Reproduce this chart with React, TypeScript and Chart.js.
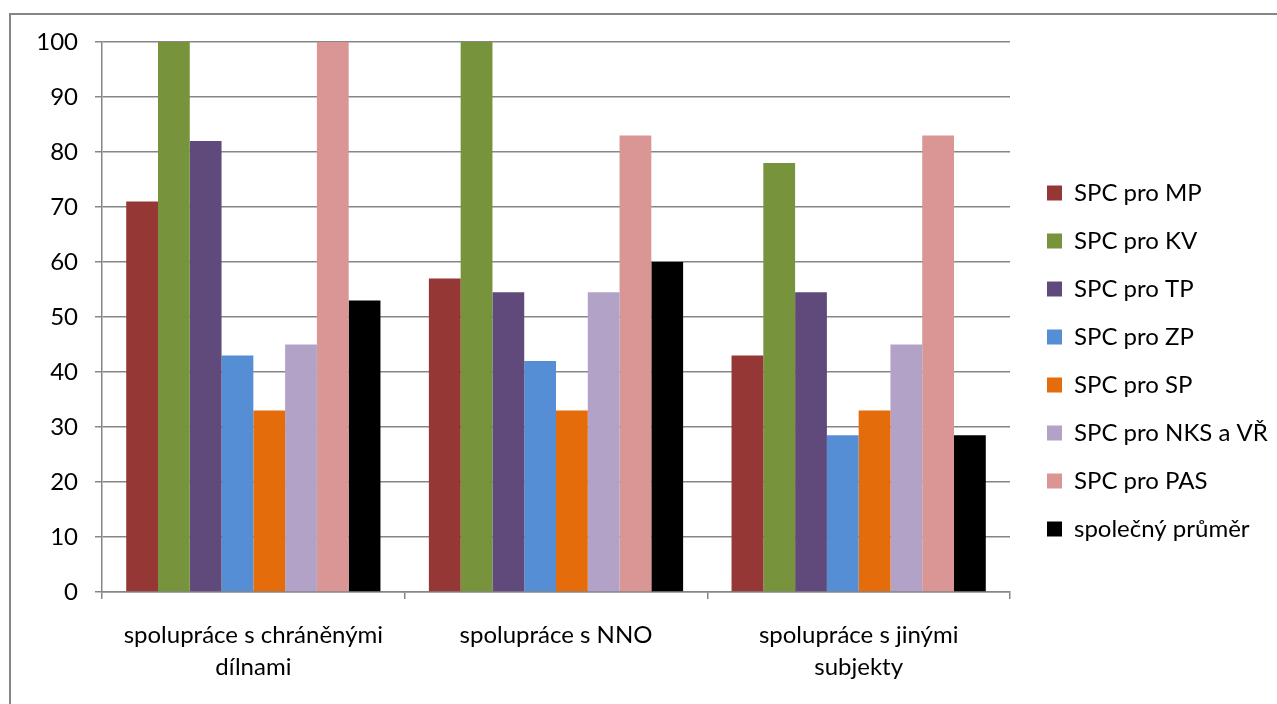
import React, { useEffect, useRef } from 'react';
import { Chart, registerables } from 'chart.js';

Chart.register(...registerables);

const categories: string[][] = [
  ['spolupráce s chráněnými', 'dílnami'],
  ['spolupráce s NNO'],
  ['spolupráce s jinými', 'subjekty'],
];

const seriesNames = [
  'SPC pro MP',
  'SPC pro KV',
  'SPC pro TP',
  'SPC pro ZP',
  'SPC pro SP',
  'SPC pro NKS a VŘ',
  'SPC pro PAS',
  'společný průměr',
];

const spcMP = [71, 57, 43];
const spcKV = [100, 100, 78];
const spcTP = [82, 54.5, 54.5];
const spcZP = [43, 42, 28.5];
const spcSP = [33, 33, 33];
const spcNKS = [45, 54.5, 45];
const spcPAS = [100, 83, 83];
const avgAll = [53, 60, 28.5];

const seriesValues = [spcMP, spcKV, spcTP, spcZP, spcSP, spcNKS, spcPAS, avgAll];

const seriesColors = [
  '#953735',
  '#77933C',
  '#604A7B',
  '#558ED5',
  '#E46C0A',
  '#B3A2C7',
  '#D99694',
  '#000000',
];

const yMin = 0;
const yMax = 100;
const yStep = 10;

const FONT = 'Lato, "Open Sans", sans-serif';
const CANVAS_W = 1266;
const CANVAS_H = 689;
const AREA_LEFT = 91;
const AREA_TOP = 27;
const AREA_BOTTOM = 577;
const AREA_RIGHT = 999;
const LEGEND_PAD = 24;
const LEGEND_LEFT = 1012;
const LEGEND_TOP = 142;

const legendPlacement = {
  id: 'legendPlacement',
  beforeLayout(chart: any) {
    const lg = chart.legend;
    if (lg && !lg.__patched) {
      const orig = lg.fit.bind(lg);
      lg.fit = function () {
        orig();
        this.width = CANVAS_W - AREA_RIGHT;
      };
      lg.__patched = true;
    }
  },
  afterLayout(chart: any) {
    const lg = chart.legend;
    if (lg) {
      const w = lg.width;
      lg.left = LEGEND_LEFT;
      lg.right = LEGEND_LEFT + w;
      lg.top = LEGEND_TOP;
      lg.bottom = CANVAS_H;
      lg.height = CANVAS_H - LEGEND_TOP;
    }
  },
};

export default function App() {
  const ref = useRef<HTMLCanvasElement | null>(null);

  useEffect(() => {
    document.documentElement.style.overflow = 'hidden';
    document.body.style.overflow = 'hidden';
    if (!ref.current) return;
    const chart = new Chart(ref.current, {
      type: 'bar',
      data: {
        labels: categories as any,
        datasets: seriesNames.map((name, i) => ({
          label: name,
          data: seriesValues[i],
          backgroundColor: seriesColors[i],
          borderWidth: 0,
          categoryPercentage: 0.84,
          barPercentage: 1,
        })),
      },
      options: {
        animation: false,
        responsive: false,
        maintainAspectRatio: false,
        layout: { padding: { top: AREA_TOP, left: 0, right: 0, bottom: 0 } },
        plugins: {
          legend: {
            position: 'right',
            align: 'start',
            labels: {
              boxWidth: 15,
              boxHeight: 15,
              padding: LEGEND_PAD,
              color: '#000',
              font: { family: FONT, size: 24 },
            },
          },
          tooltip: { enabled: false },
        },
        scales: {
          x: {
            grid: {
              display: true,
              drawOnChartArea: false,
              drawTicks: true,
              tickLength: 7,
              color: '#868686',
              lineWidth: 1.5,
            },
            border: { display: true, color: '#868686', width: 1.5 },
            ticks: {
              color: '#000',
              padding: 20,
              maxRotation: 0,
              autoSkip: false,
              font: { family: FONT, size: 24, lineHeight: '32px' as any },
            },
            afterFit(scale: any) {
              scale.height = CANVAS_H - AREA_BOTTOM;
            },
          },
          y: {
            min: yMin,
            max: yMax,
            grid: {
              color: '#868686',
              lineWidth: 1.5,
              tickLength: 7,
            },
            border: { display: true, color: '#868686', width: 1.5 },
            ticks: {
              stepSize: yStep,
              color: '#000',
              padding: 17,
              font: { family: FONT, size: 24 },
            },
            afterFit(scale: any) {
              scale.width = AREA_LEFT;
              scale.paddingTop = 0;
              scale.paddingBottom = 0;
            },
          },
        },
      },
      plugins: [legendPlacement],
    });
    return () => chart.destroy();
  }, []);

  return (
    <div
      style={{
        position: 'fixed',
        left: 9,
        top: 13,
        width: 1320,
        height: 740,
        border: '2px solid #868686',
        background: '#fff',
        boxSizing: 'border-box',
      }}
    >
      <canvas
        ref={ref}
        width={CANVAS_W}
        height={CANVAS_H}
        style={{ display: 'block', width: CANVAS_W, height: CANVAS_H }}
      />
    </div>
  );
}
